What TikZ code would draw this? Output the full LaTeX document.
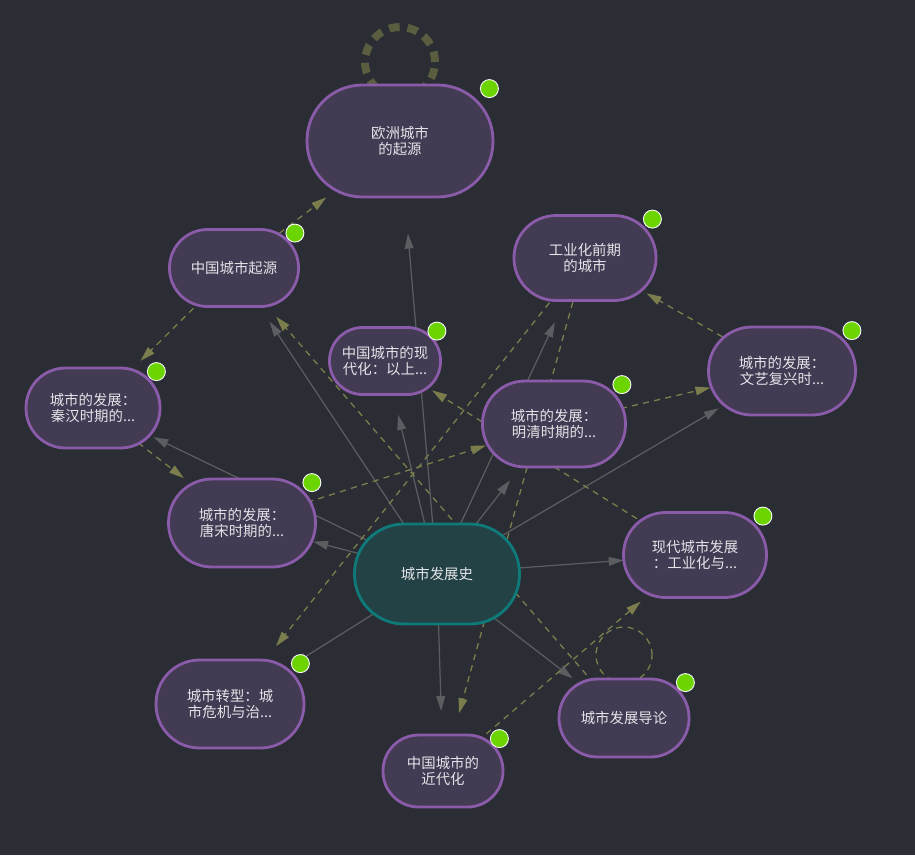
\documentclass[tikz,border=0pt]{standalone}
\usepackage{fontspec}
\newfontfamily\cjk{Noto Sans CJK SC}
\usepackage{xcolor}
\usetikzlibrary{arrows.meta}

\definecolor{bgdark}{HTML}{2A2D33}
\definecolor{topicfill}{HTML}{433A53}
\definecolor{topicline}{HTML}{8A5BA8}
\definecolor{rootfill}{HTML}{234246}
\definecolor{rootline}{HTML}{0F7A7A}
\definecolor{linkgray}{HTML}{5A5E61}
\definecolor{linkolive}{HTML}{7B7D4C}
\definecolor{loopolive}{HTML}{5A5D3F}
\definecolor{dotgreen}{HTML}{6CD400}
\definecolor{labeltext}{HTML}{E4E4E8}

\pgfdeclarelayer{canvas}
\pgfdeclarelayer{links}
\pgfsetlayers{canvas,links,main}

\begin{document}
\begin{tikzpicture}[
  x=0.02cm, y=-0.02cm,
  >={Triangle[length=8.5pt,width=5pt]},
  topic/.style 2 args={draw=topicline, fill=topicfill, line width=1.6pt,
              minimum width=#1*0.02cm, minimum height=#2*0.02cm,
              rounded corners=#2*0.0099cm, inner sep=1pt, align=center,
              text=labeltext, font=\cjk\fontsize{8.2}{9.4}\selectfont},
  root/.style 2 args={topic={#1}{#2}, draw=rootline, fill=rootfill},
  badge/.style={circle, fill=dotgreen, draw=white, line width=0.5pt,
              minimum size=0.36cm, inner sep=0pt},
  arr/.style={->, draw=linkgray, line width=0.7pt},
  dep/.style={->, draw=linkolive, line width=0.75pt, dash pattern=on 3.5pt off 3pt},
  selfloop/.style={draw=linkolive, line width=0.75pt, dash pattern=on 3.5pt off 3pt},
  bigloop/.style={draw=loopolive, line width=4.5pt, dash pattern=on 6pt off 4.5pt},
  cut/.style={shorten >=#1*0.02cm},
]
% Canvas
\begin{pgfonlayer}{canvas}
\fill[bgdark] (0,0) rectangle (915,855);
\end{pgfonlayer}
\useasboundingbox (0,0) rectangle (915,855);

% Topics
\node[topic={186}{112}] (eu) at (400,141) {欧洲城市\\的起源};
\node[topic={129}{77}] (cnorig) at (234,268) {中国城市起源};
\node[topic={142}{85}] (preind) at (585,258) {工业化前期\\的城市};
\node[topic={111}{67}] (cnmod) at (385,361) {中国城市的现\\代化：以上...};
\node[topic={147}{88}] (renais) at (782,371) {城市的发展：\\文艺复兴时...};
\node[topic={134}{80}] (qinhan) at (93,408) {城市的发展：\\秦汉时期的...};
\node[topic={143}{86}] (mingqing) at (554,424) {城市的发展：\\明清时期的...};
\node[topic={147}{88}] (tangsong) at (242,523) {城市的发展：\\唐宋时期的...};
\node[root={165}{100}] (hist) at (437,574) {城市发展史};
\node[topic={143}{85}] (modern) at (695,555) {现代城市发展\\：工业化与...};
\node[topic={148}{88}] (transf) at (230,704) {城市转型：城\\市危机与治...};
\node[topic={120}{72}] (cnnear) at (443,771) {中国城市的\\近代化};
\node[topic={130}{78}] (intro) at (624,718) {城市发展导论};

% Badges
\foreach \n in {eu,cnorig,preind,cnmod,renais,qinhan,mingqing,tangsong,modern,transf,cnnear,intro}
  \node[badge] (\n-b) at ([shift={(-5,5)}]\n.north east) {};

\begin{pgfonlayer}{links}
% From the root
\draw[arr, cut=93] (hist.center) -- (eu.center);
\draw[arr, cut=64.5] (hist.center) -- (cnorig.center);
\draw[arr, cut=55.5] (hist.center) -- (cnmod.center);
\draw[arr, cut=71] (hist.center) -- (preind.center);
\draw[arr, cut=71.5] (hist.center) -- (mingqing.center);
\draw[arr, cut=73.5] (hist.center) -- (renais.center);
\draw[arr, cut=67] (hist.center) -- (qinhan.center);
\draw[arr, cut=73.5] (hist.center) -- (tangsong.center);
\draw[arr, cut=71.5] (hist.center) -- (modern.center);
\draw[arr, cut=74] (hist.center) -- (transf.center);
\draw[arr, cut=60] (hist.center) -- (cnnear.center);
\draw[arr, cut=65] (hist.center) -- (intro.center);

% Dependencies
\draw[dep, cut=93] (cnorig.center) -- (eu.center);
\draw[dep, cut=67] (cnorig.center) -- (qinhan.center);
\draw[dep, cut=73.5] (qinhan.center) -- (tangsong.center);
\draw[dep, cut=71.5] (tangsong.center) -- (mingqing.center);
\draw[dep, cut=73.5] (mingqing.center) -- (renais.center);
\draw[dep, cut=71] (renais.center) -- (preind.center);
\draw[dep, cut=74] (preind.center) -- (transf.center);
\draw[dep, cut=60] (preind.center) -- (cnnear.center);
\draw[dep, cut=55.5] (modern.center) -- (cnmod.center);
\draw[dep, cut=64.5] (intro.center) -- (cnorig.center);
\draw[dep, cut=71.5] (cnnear.center) -- (modern.center);

% Self loops
\draw[bigloop] ([yshift=1.58cm]eu.center) circle[radius=0.7cm];
\draw[selfloop] ([yshift=1.26cm]intro.center) circle[radius=0.56cm];
\end{pgfonlayer}
\end{tikzpicture}
\end{document}
